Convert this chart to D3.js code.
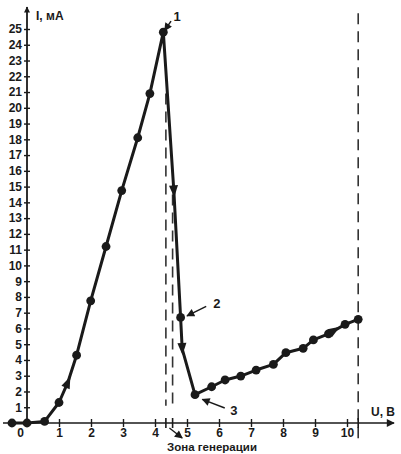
<!DOCTYPE html>
<html lang="ru">
<head>
    <meta charset="UTF-8">
    <title>ВАХ</title>
    <script src="https://d3js.org/d3.v7.min.js"></script>
    <style>
        body, html { margin: 0; background: #fff; }
        svg text { font-family: "Liberation Sans", Arial, sans-serif; fill: #1a1a1a; }
    </style>
</head>
<body>
<div id="chart"></div>
<script>
    // curve points, U (V) / I (mA)
    var uVals = [-0.47, 0, 0.55, 1.0, 1.28, 1.55, 1.99, 2.47, 2.96, 3.46, 3.84, 4.26, 4.59, 4.8, 4.85, 5.25, 5.77, 6.19, 6.68, 7.16, 7.7, 8.09, 8.63, 8.95, 9.42, 9.94, 10.35];
    var iVals = [0, 0, 0.1, 1.3, 2.6, 4.3, 7.75, 11.2, 14.75, 18.1, 20.9, 24.8, 14.7, 6.7, 4.7, 1.8, 2.3, 2.73, 2.98, 3.36, 3.72, 4.46, 4.74, 5.27, 5.65, 6.26, 6.58];
    // indexes of curve points drawn as arrowheads instead of dots
    var arrowIdx = [4, 12, 14];
    var extraArrowU = [9.62];
    var extraArrowI = [5.9];

    var yTicks = d3.range(1, 26);
    var xTicks = d3.range(1, 11);

    // dashed markers: U, I top, I bottom
    var dashU = [4.34, 4.55, 10.35];
    var dashTop = [20.9, 14.5, 26];
    var dashBottom = [1.1, 1.1, -1.4];

    // callouts: label, text pos, arrow tail, arrow head (data units)
    var notes = [
        { t: "1", tu: 4.58, ti: 25.8, au: 4.5, ai: 25.5, bu: 4.3, bi: 24.9 },
        { t: "2", tu: 5.82, ti: 7.6, au: 5.6, ai: 7.4, bu: 5.0, bi: 6.8 },
        { t: "3", tu: 6.35, ti: 0.8, au: 6.18, ai: 0.95, bu: 5.48, bi: 1.5 }
    ];

    var width = 401, height = 454;
    var x = d3.scaleLinear().domain([0, 10]).range([27, 347]);
    var y = d3.scaleLinear().domain([0, 25]).range([423, 29]);
    var ink = "#1a1a1a";

    var svg = d3.select("#chart").append("svg")
        .attr("width", width)
        .attr("height", height);

    var defs = svg.append("defs");
    defs.append("marker")
        .attr("id", "head")
        .attr("viewBox", "0 0 10 10")
        .attr("refX", 9).attr("refY", 5)
        .attr("markerWidth", 7).attr("markerHeight", 6)
        .attr("markerUnits", "userSpaceOnUse")
        .attr("orient", "auto")
        .append("path").attr("d", "M0,0L10,5L0,10z").attr("fill", ink);
    defs.append("marker")
        .attr("id", "bighead")
        .attr("viewBox", "0 0 10 10")
        .attr("refX", 9).attr("refY", 5)
        .attr("markerWidth", 10).attr("markerHeight", 8)
        .attr("markerUnits", "userSpaceOnUse")
        .attr("orient", "auto")
        .append("path").attr("d", "M0,0L10,5L0,10z").attr("fill", ink);

    // dashed lines
    dashU.forEach(function (u, k) {
        svg.append("line")
            .attr("x1", x(u)).attr("x2", x(u))
            .attr("y1", y(dashTop[k])).attr("y2", y(dashBottom[k]))
            .attr("stroke", "#333").attr("stroke-width", 1.6)
            .attr("stroke-dasharray", "11,7");
        svg.append("line")
            .attr("x1", x(u)).attr("x2", x(u))
            .attr("y1", y(0) - 5).attr("y2", y(0) + 5)
            .attr("stroke", ink).attr("stroke-width", 1.6);
    });

    // axes
    var yAxis = svg.append("g")
        .attr("transform", "translate(" + x(0) + ",0)")
        .call(d3.axisLeft(y).tickValues(yTicks).tickSize(0).tickPadding(5));
    yAxis.select(".domain").remove();
    yAxis.selectAll(".tick line").attr("x1", -3).attr("x2", 3).attr("stroke", ink).attr("stroke-width", 1.4);
    yAxis.selectAll(".tick text").attr("font-size", 12).attr("font-weight", "bold").attr("fill", ink);

    var xAxis = svg.append("g")
        .attr("transform", "translate(0," + y(0) + ")")
        .call(d3.axisBottom(x).tickValues(xTicks).tickSize(0).tickPadding(5));
    xAxis.select(".domain").remove();
    xAxis.selectAll(".tick line").attr("y1", -4).attr("y2", 4).attr("stroke", ink).attr("stroke-width", 1.4);
    xAxis.selectAll(".tick text").attr("font-size", 12).attr("font-weight", "bold").attr("fill", ink);

    svg.append("text").attr("x", x(-0.2)).attr("y", y(0) + 14)
        .attr("text-anchor", "middle").attr("font-size", 12).attr("font-weight", "bold")
        .text("0");

    svg.append("line")
        .attr("x1", 3).attr("x2", 394)
        .attr("y1", y(0)).attr("y2", y(0))
        .attr("stroke", ink).attr("stroke-width", 1.6)
        .attr("marker-end", "url(#bighead)");
    svg.append("line")
        .attr("x1", x(0)).attr("x2", x(0))
        .attr("y1", y(0)).attr("y2", 7)
        .attr("stroke", ink).attr("stroke-width", 1.8)
        .attr("marker-end", "url(#head)");

    svg.append("text").attr("x", 36).attr("y", 20)
        .attr("font-size", 12).attr("font-weight", "bold").text("I, мА");
    svg.append("text").attr("x", 371).attr("y", 416)
        .attr("font-size", 12).attr("font-weight", "bold").text("U, В");

    // curve
    var pts = uVals.map(function (u, k) { return [u, iVals[k]]; });
    var line = d3.line().x(function (d) { return x(d[0]); }).y(function (d) { return y(d[1]); });
    svg.append("path")
        .attr("d", line(pts))
        .attr("fill", "none").attr("stroke", ink)
        .attr("stroke-width", 3).attr("stroke-linejoin", "round");

    svg.selectAll("circle.pt")
        .data(pts.filter(function (d, k) { return arrowIdx.indexOf(k) < 0; }))
        .enter().append("circle")
        .attr("class", "pt")
        .attr("cx", function (d) { return x(d[0]); })
        .attr("cy", function (d) { return y(d[1]); })
        .attr("r", 4.4)
        .attr("fill", ink);

    // direction arrowheads along the curve
    function arrowAt(u, i, u0, i0) {
        var ang = Math.atan2(y(i) - y(i0), x(u) - x(u0)) * 180 / Math.PI;
        svg.append("path")
            .attr("d", "M6,0L-6,-4.5L-6,4.5z")
            .attr("fill", ink)
            .attr("transform", "translate(" + x(u) + "," + y(i) + ") rotate(" + ang + ")");
    }
    arrowIdx.forEach(function (k) {
        arrowAt(uVals[k], iVals[k], uVals[k - 1], iVals[k - 1]);
    });
    arrowAt(extraArrowU[0], extraArrowI[0], 9.42, 5.65);

    // callouts
    notes.forEach(function (n) {
        svg.append("line")
            .attr("x1", x(n.au)).attr("y1", y(n.ai))
            .attr("x2", x(n.bu)).attr("y2", y(n.bi))
            .attr("stroke", ink).attr("stroke-width", 1.5)
            .attr("marker-end", "url(#bighead)");
        svg.append("text")
            .attr("x", x(n.tu)).attr("y", y(n.ti))
            .attr("dy", "0.35em")
            .attr("font-size", 13).attr("font-weight", "bold")
            .text(n.t);
    });

    // zone label
    svg.append("line")
        .attr("x1", x(4.45)).attr("y1", y(0) + 5)
        .attr("x2", x(4.85)).attr("y2", y(0) + 15)
        .attr("stroke", ink).attr("stroke-width", 1.4)
        .attr("marker-end", "url(#bighead)");
    svg.append("text")
        .attr("x", 212).attr("y", 451)
        .attr("text-anchor", "middle")
        .attr("font-size", 11.5).attr("font-weight", "bold")
        .text("Зона генерации");
</script>
</body>
</html>
